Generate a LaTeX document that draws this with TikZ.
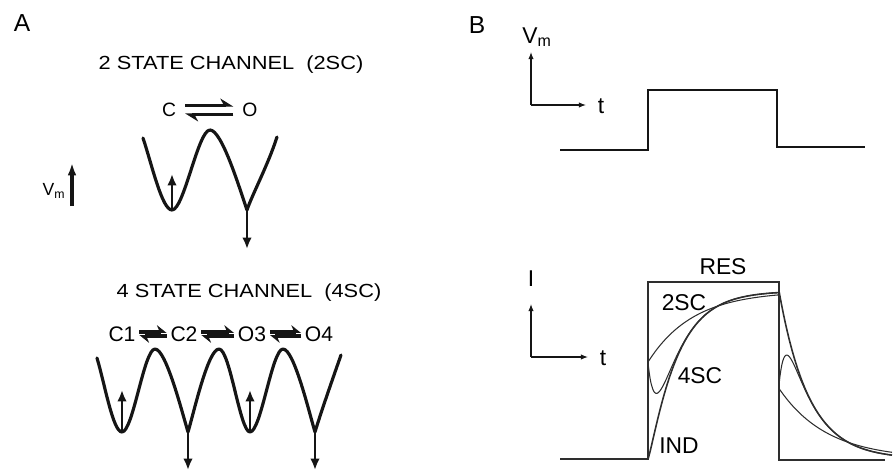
\documentclass[tikz,border=0pt]{standalone}
\usepackage{fontspec}
\setmainfont{Liberation Sans}
\newfontfamily\widesans[FakeStretch=1.15]{Liberation Sans}
\usepackage{tikz}
\usetikzlibrary{arrows.meta}
\definecolor{ink}{HTML}{151515}
\definecolor{tracec}{HTML}{2E2E2E}
% one unit = one pixel of the figure, y counted downwards
\newcommand{\kick}[3]{%
  \draw[kick] (#1,#2) -- (#1,#3);
}
\newcommand{\txt}[1]{\fontsize{#1}{#1}\selectfont}

\begin{document}
\begin{tikzpicture}[x=0.02cm,y=-0.02cm,
  well/.style={ink,line width=1.8pt,line join=round,line cap=round},
  kick/.style={ink,line width=1.6pt,-{Latex[length=6.5pt,width=5.5pt]}},
  eqarrow/.style={ink,line width=1.8pt,-{Stealth[harpoon,length=6.5pt,width=8pt]}},
  fatarrow/.style={ink,line width=2pt,-{Stealth[harpoon,length=5pt,width=8pt]}},
  axis/.style={ink,line width=0.6pt,-{Latex[length=4pt,width=3pt]}},
  tr/.style={tracec,line width=0.6pt},
  title/.style={font=\widesans\txt{10.8}},
  state/.style={font=\txt{12},inner sep=2pt},
  lab/.style={font=\txt{13},inner sep=0pt}
]
\useasboundingbox (0,0) rectangle (894,470);

% panel letters
\node[font=\txt{14}] (panA) at (22,23) {A};
\node[font=\txt{14}] (panB) at (477,25) {B};

% ---- A: two state channel
\node[title] (title2) at (231,65) {2 STATE CHANNEL\ \ (2SC)};
\node[font=\txt{11},inner sep=5pt] (C) at (169,110) {C};
\node[font=\txt{11},inner sep=5pt] (O) at (250,110) {O};
\draw[eqarrow] ([yshift=2.5pt]C.east) -- ([yshift=2.5pt]O.west);
\draw[eqarrow] ([yshift=-2.5pt]O.west) -- ([yshift=-2.5pt]C.east);
\draw[well] (143,138) .. controls (152,165) and (162,210) .. (172,210)
  .. controls (184,210) and (198,130) .. (210,130)
  .. controls (222,130) and (240,190) .. (247,210)
  .. controls (252,195) and (268,165) .. (277,137);
\kick{172}{209}{174}
\kick{247}{211}{249}
% membrane potential
\node[font=\txt{10},inner sep=1pt] (vmA) at (54,191) {V\textsubscript{m}};
\draw[ink,line width=2pt,-{Latex[length=7pt,width=5pt]}] (72,206) -- (72,163);

% ---- A: four state channel
\node[title] (title4) at (249,293) {4 STATE CHANNEL\ \ (4SC)};
\node[state] (C1) at (122,334) {C1};
\node[state] (C2) at (184,334) {C2};
\node[state] (O3) at (252,334) {O3};
\node[state] (O4) at (319,334) {O4};
\foreach \a/\b in {C1/C2,C2/O3,O3/O4} {
  \draw[fatarrow] ([yshift=1pt]\a.east) -- ([yshift=1pt]\b.west);
  \draw[fatarrow] ([yshift=-1pt]\b.west) -- ([yshift=-1pt]\a.east);
}
\draw[well] (97,358) .. controls (105,385) and (113,432) .. (122,432)
  .. controls (133,432) and (144,349) .. (155,349)
  .. controls (166,349) and (182,412) .. (188,432)
  .. controls (194,412) and (208,349) .. (219,349)
  .. controls (230,349) and (240,432) .. (250,432)
  .. controls (261,432) and (272,349) .. (283,349)
  .. controls (294,349) and (309,412) .. (315,432)
  .. controls (321,412) and (334,375) .. (341,355);
\foreach \x in {122,250} {\kick{\x}{431}{390}}
\foreach \x in {188,315} {\kick{\x}{433}{470}}

% ---- B: voltage step
\node[lab] (vmB) at (537,37) {V\textsubscript{m}};
\coordinate (vo) at (531,105);
\coordinate (vtop) at (531,52);
\coordinate (vend) at (586,105);
\draw[axis] (vo) -- (vtop);
\draw[axis] (vo) -- (vend);
\node[lab] (tB1) at (601,106) {t};
\draw[ink,line width=0.7pt] (560,150) -- (648,150) -- (648,90) -- (777,90) -- (777,147) -- (865,147);

% ---- B: currents
\node[lab] (iB) at (531,279) {I};
\coordinate (io) at (531,357);
\coordinate (itop) at (531,304);
\coordinate (iend) at (588,357);
\draw[axis] (io) -- (itop);
\draw[axis] (io) -- (iend);
\node[lab] (tB2) at (603,358) {t};
% resistor
\draw[tr] (560,459) -- (648,459) -- (648,282) -- (779,282) -- (779,460) -- (885,460);
\node[lab] (res) at (723,267) {RES};
% on
\draw[tr,line width=0.9pt] (648,459) -- plot[domain=0.3:131,samples=90] ({648+\x},{459-168*(1-exp(-\x/27))^1.2});
\draw[tr] plot[domain=0:131,samples=60] ({648+\x},{459-168*(1-0.423*exp(-\x/45))});
\draw[tr] plot[domain=0.3:131,samples=150] ({648+\x},{459-168*((1-exp(-\x/27))^1.2+0.577*exp(-\x/7.4))});
% off
\draw[tr,line width=0.9pt] plot[domain=0:113,samples=80] ({779+\x},{459-168*exp(-\x/30)});
\draw[tr] plot[domain=0:113,samples=120] ({779+\x},{459-168*(exp(-\x/30)-0.56*exp(-\x/6))});
\draw[tr] plot[domain=0:113,samples=60] ({779+\x},{459-168*0.42*exp(-\x/48)});
\node[lab] (l2sc) at (684,303) {2SC};
\node[lab] (l4sc) at (700,376) {4SC};
\node[lab] (lind) at (679,446) {IND};
\end{tikzpicture}
\end{document}
